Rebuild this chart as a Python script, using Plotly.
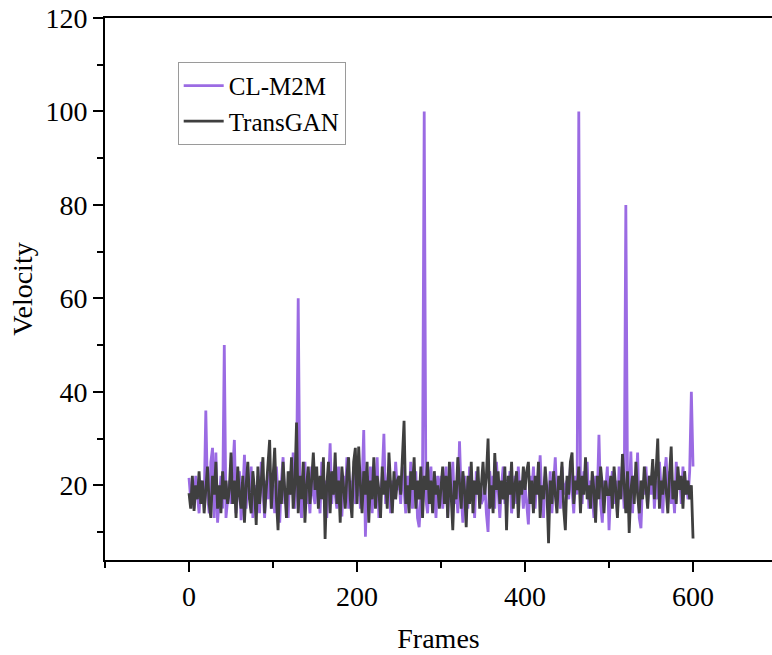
import plotly.graph_objects as go

# CL-M2M velocity, one value every 2 frames (frames 0..600)
cl_m2m = (
    [21.6, 17, 20, 15, 22, 18, 14, 21, 19, 16, 36, 18, 14, 25, 28, 13, 27, 12, 17, 22, 15, 50, 13, 17, 21]
    + [16, 22, 29.7, 14, 19, 23, 12.5, 18, 26.5, 15, 21, 17, 24, 13, 20, 16, 22, 14, 25, 18, 13, 21, 17, 23, 15]
    + [20, 14, 24, 17, 12, 21, 26, 16, 19, 13, 23, 18, 27, 15, 21, 60, 17, 13, 22, 25, 16, 19, 14, 24, 18]
    + [16, 22, 19, 14, 25, 17, 21, 13, 20, 29, 16, 23, 18, 15, 24, 20, 13.3, 22, 17, 26, 15, 21, 18, 24, 16]
    + [18, 23, 15, 20, 31.8, 9, 22, 17, 24, 14, 21, 19, 26, 13, 18, 22, 31, 16, 20, 24, 14, 21, 17, 25, 19]
    + [21, 16, 24, 19, 14, 22, 17, 25, 15, 20, 23, 13, 11, 18, 22, 100, 17, 14, 21, 24, 16, 19, 13, 22, 18]
    + [22, 15, 19, 24, 13, 21, 17, 25, 16, 20, 14, 29.4, 18, 12, 22, 19, 15, 24, 17, 21, 13, 23, 18, 20, 16]
    + [17, 21, 14, 10, 23, 18, 22, 15, 25, 19, 13, 20, 24, 16, 21, 18, 23, 14, 19, 22, 16, 24, 18, 21, 15]
    + [20, 16, 11.6, 22, 18, 24, 15, 21, 19, 26.4, 17, 13, 22, 19, 16, 23, 14, 20, 26, 17, 21, 15, 24, 18, 20]
    + [21, 17, 24, 19, 14, 22, 18, 100, 20, 16, 23, 19, 25, 15, 21, 18, 13, 22, 17, 30.8, 16, 12, 21, 19, 24]
    + [10.4, 19, 23, 16, 21, 14, 24, 18, 22, 15, 80, 20, 17, 27.2, 14, 22, 19, 27, 13, 10.8, 21, 18, 24, 16, 22]
    + [18, 24, 15, 21, 17, 25, 19, 14, 22, 26, 18, 23, 16, 20, 14, 25, 19, 22, 16, 24, 18, 21, 17, 23, 40, 24]
)

# TransGAN velocity, one value every 2 frames (frames 0..600)
transgan = (
    [18.3, 15, 22, 14.5, 20, 17, 23, 16, 21, 14, 19, 24, 16, 13, 22, 18, 25, 15, 20, 14, 23, 17, 21, 16, 19]
    + [27, 16, 21, 13, 24, 18, 15, 22, 12, 20, 25, 17, 14, 23, 19, 11.5, 24, 16, 21, 26, 14, 19, 23, 29.7, 15]
    + [22, 28, 17, 10.4, 21, 16, 25, 19, 13, 23, 18, 26, 15, 20, 33.4, 14, 22, 17, 25, 12, 20, 24, 16, 21, 27]
    + [19, 24, 15, 22, 17, 26, 8.5, 20, 25, 14, 23, 18, 27, 16, 21, 12, 24, 19, 15, 22, 26, 17, 13, 25, 28]
    + [16, 28.3, 20, 14, 23, 18, 25, 12, 21, 17, 26, 15, 22, 19, 13, 24, 18, 21, 15, 27, 20, 14, 23, 17, 21]
    + [22, 18, 25, 33.8, 16, 20, 14, 23, 19, 26, 15, 21, 17, 24, 13, 22, 19, 25, 16, 21, 14, 23, 18, 20, 15]
    + [19, 24, 16, 22, 13, 25, 18, 10.4, 21, 17, 26, 20, 15, 23, 19, 11, 22, 16, 25, 14, 21, 18, 24, 15, 20]
    + [25, 18, 22, 30, 15, 20, 14, 26.9, 19, 23, 16, 21, 17, 24, 10.4, 22, 18, 25, 15, 20, 23, 13, 21, 18, 24]
    + [19, 23, 25, 16, 21, 14, 22, 18, 25, 13, 20, 17, 24, 19, 7.6, 21, 16, 23, 18, 14, 22, 19, 25, 15, 10.4]
    + [22, 18, 25, 27, 16, 21, 19, 24, 14, 22, 18, 26, 17, 20, 15, 23, 19, 12, 22, 17, 24, 20, 14, 21, 18]
    + [18, 22, 15, 24, 19, 13, 21, 17, 26.7, 20, 14, 23, 9.8, 19, 22, 16, 25, 18, 14, 21, 17, 24, 19, 15, 22]
    + [20, 25.6, 17, 23, 30, 15, 21, 18, 24, 19, 14, 22, 28.3, 17, 21, 16, 24, 19, 22, 15, 23, 18, 21, 17, 20, 8.6]
)

frames_cl = list(range(0, 2 * len(cl_m2m), 2))
frames_tg = list(range(0, 2 * len(transgan), 2))

x_ticks = [0, 200, 400, 600]
y_ticks = [20, 40, 60, 80, 100, 120]

FONT = "Liberation Serif, Times New Roman, serif"

fig = go.Figure()
fig.add_trace(go.Scatter(x=frames_cl, y=cl_m2m, mode="lines", name="CL-M2M",
                         line=dict(color="#9B6BE3", width=2.8)))
fig.add_trace(go.Scatter(x=frames_tg, y=transgan, mode="lines", name="TransGAN",
                         line=dict(color="#3F3F3F", width=2.8)))

fig.update_layout(
    width=772, height=655,
    margin=dict(l=105, r=0, t=18, b=95),
    paper_bgcolor="white", plot_bgcolor="white",
    font=dict(family=FONT, size=27, color="black"),
    showlegend=True,
    legend=dict(x=0.109, y=0.919, xanchor="left", yanchor="top",
                bgcolor="white", bordercolor="#9a9a9a", borderwidth=1,
                font=dict(family=FONT, size=25, color="black"),
                tracegroupgap=0, itemwidth=40),
)
fig.update_xaxes(
    range=[-100, 694], tickvals=x_ticks, ticks="outside", ticklen=10, tickwidth=2,
    tickcolor="black", showline=True, linewidth=2, linecolor="black", mirror=True,
    showgrid=False, zeroline=False, automargin=False, ticklabeloverflow="allow",
    minor=dict(dtick=100, tick0=0, ticks="outside", ticklen=6, tickwidth=2, tickcolor="black"),
    title=dict(text="Frames", font=dict(family=FONT, size=28), standoff=18),
    tickfont=dict(family=FONT, size=28),
)
fig.update_yaxes(
    range=[4, 120], tickvals=y_ticks, ticks="outside", ticklen=10, tickwidth=2,
    tickcolor="black", showline=True, linewidth=2, linecolor="black", mirror=False,
    showgrid=False, zeroline=False, automargin=False, ticklabeloverflow="allow",
    minor=dict(dtick=10, tick0=0, ticks="outside", ticklen=6, tickwidth=2, tickcolor="black"),
    title=dict(text="Velocity", font=dict(family=FONT, size=28), standoff=5),
    tickfont=dict(family=FONT, size=28),
)

fig.write_html(
    "out.html",
    config={"displayModeBar": False},
    post_script="document.body.style.margin='0';document.body.style.overflow='hidden';",
)
